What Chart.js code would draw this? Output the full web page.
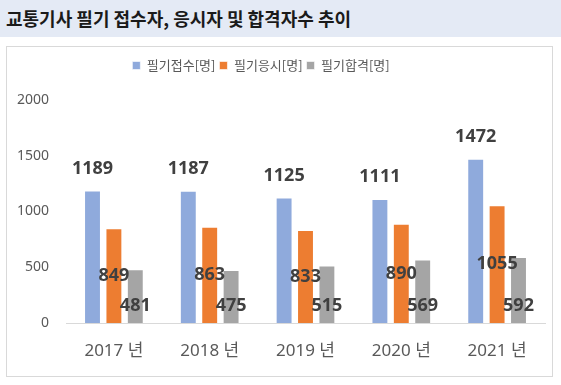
<!DOCTYPE html>
<html>
<head>
<meta charset="utf-8">
<script src="https://cdn.jsdelivr.net/npm/chart.js@4"></script>
<style>
  body { margin: 0; background: #fff; width: 561px; height: 385px; overflow: hidden; }
  #titleBar {
    position: absolute; left: 0; top: 0; width: 561px; height: 37px;
    background: #e4eaf5;
    font-family: "Noto Sans CJK KR", sans-serif; font-weight: bold; font-size: 18px;
    color: #1a1a1a; line-height: 37px; padding-left: 6px; box-sizing: border-box;
  }
  #box {
    position: absolute; left: 6px; top: 46px; width: 547px; height: 331px;
    border: 1px solid #d9d9d9; box-sizing: border-box;
  }
  #chartWrap { position: absolute; left: 0; top: 0; width: 545px; height: 329px; }
</style>
</head>
<body>
<div id="titleBar">교통기사 필기 접수자, 응시자 및 합격자수 추이</div>
<div id="box"><div id="chartWrap"><canvas id="chart"></canvas></div></div>
<script>
// chart data
const years = ['2017 년', '2018 년', '2019 년', '2020 년', '2021 년'];
const seriesNames = ['필기접수[명]', '필기응시[명]', '필기합격[명]'];
const applied = [1189, 1187, 1125, 1111, 1472];
const tested = [849, 863, 833, 890, 1055];
const passed = [481, 475, 515, 569, 592];
const yTicks = [0, 500, 1000, 1500, 2000];

const colors = ['#8faadc', '#ed7d31', '#a5a5a5'];
const labelFont = 'bold 18px "Noto Sans", sans-serif';
const krFont = '"Noto Sans CJK KR", sans-serif';

// value labels: blue above bar, orange in the middle, grey near the base
const valueLabels = {
  id: 'valueLabels',
  afterDatasetsDraw(chart) {
    const ctx = chart.ctx;
    ctx.save();
    ctx.font = labelFont;
    ctx.fillStyle = '#404040';
    ctx.textAlign = 'center';
    ctx.textBaseline = 'middle';
    chart.data.datasets.forEach((ds, i) => {
      const meta = chart.getDatasetMeta(i);
      meta.data.forEach((bar, j) => {
        let y;
        if (i === 0) y = bar.y - 22;
        else if (i === 1) y = (bar.y + bar.base) / 2;
        else y = bar.base - 17;
        ctx.fillText(String(ds.data[j]), bar.x, y);
      });
    });
    ctx.restore();
  }
};

// extra room under the legend, and legend sits a bit left of centre
const legendTweak = {
  id: 'legendTweak',
  beforeInit(chart) {
    const fit = chart.legend.fit;
    chart.legend.fit = function () {
      fit.bind(chart.legend)();
      this.height += 18;
    };
  },
  afterLayout(chart) {
    chart.legend.left -= 15;
    chart.legend.right -= 15;
  }
};

new Chart(document.getElementById('chart'), {
  type: 'bar',
  data: {
    labels: years,
    datasets: [applied, tested, passed].map((d, i) => ({
      label: seriesNames[i],
      data: d,
      backgroundColor: colors[i],
      borderColor: 'rgba(255,255,255,0.6)',
      borderWidth: 1,
      categoryPercentage: 0.67,
      barPercentage: 0.79
    }))
  },
  options: {
    responsive: true,
    maintainAspectRatio: false,
    animation: false,
    layout: { padding: { left: 0, right: 7, top: 8, bottom: 0 } },
    plugins: {
      legend: {
        display: true,
        position: 'top',
        labels: {
          font: { size: 13, family: krFont },
          color: '#595959',
          boxWidth: 8,
          boxHeight: 8,
          padding: 4
        }
      },
      tooltip: { enabled: false }
    },
    scales: {
      x: {
        grid: { display: false, drawTicks: false },
        border: { display: true, color: '#d9d9d9' },
        ticks: {
          font: { size: 17, family: '"Noto Sans", "Noto Sans CJK KR", sans-serif' },
          color: '#595959',
          padding: 18
        },
        afterFit(scale) { scale.height = 53; }
      },
      y: {
        min: 0,
        max: 2000,
        afterBuildTicks(scale) { scale.ticks = yTicks.map(v => ({ value: v })); },
        grid: { display: false },
        border: { display: false },
        ticks: {
          font: { size: 14, family: '"Noto Sans", sans-serif' },
          color: '#595959',
          padding: 9,
          callback: v => String(v)
        },
        afterFit(scale) { scale.width = 59; }
      }
    }
  },
  plugins: [valueLabels, legendTweak]
});
</script>
</body>
</html>
